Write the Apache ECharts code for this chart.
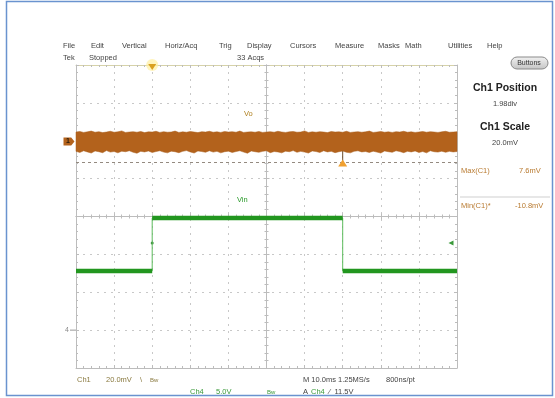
<!DOCTYPE html>
<html><head><meta charset="utf-8">
<script src="https://cdn.jsdelivr.net/npm/echarts@6/dist/echarts.min.js"></script>
<style>html,body{margin:0;padding:0;background:#fff}#c{width:555px;height:398px}</style>
</head><body><div id="c"></div>
<script>
// ---- data ----
const menuItems = ['File','Edit','Vertical','Horiz/Acq','Trig','Display','Cursors','Measure','Masks','Math','Utilities','Help'];
const menuX = [63,91,122,165,219,247,290,335,378,405,448,487];
// time axis (ms), 10 ms/div
const timeMin = 0, timeMax = 100, timeDiv = 10;
// Vo (Ch1, mV) noise envelope, sampled every 1 ms
const voT = [0,1,2,3,4,5,6,7,8,9,10,11,12,13,14,15,16,17,18,19,20,21,22,23,24,25,26,27,28,29,30,31,32,33,34,35,36,37,38,39,40,41,42,43,44,45,46,47,48,49,50,51,52,53,54,55,56,57,58,59,60,61,62,63,64,65,66,67,68,69,70,71,72,73,74,75,76,77,78,79,80,81,82,83,84,85,86,87,88,89,90,91,92,93,94,95,96,97,98,99,100];
const voHi = [5.0,5.3,4.8,5.1,5.5,4.9,5.2,4.7,5.0,5.4,
              4.9,5.1,5.6,4.8,5.0,5.2,4.9,5.3,4.7,5.1,
              5.0,5.4,4.8,5.2,4.9,5.0,5.5,4.8,5.1,4.9,
              5.3,5.0,4.7,5.2,5.0,5.4,4.9,5.1,4.8,5.3,
              5.0,5.2,4.9,5.5,4.8,5.0,5.1,4.9,5.3,4.8,
              5.0,5.2,4.9,5.4,5.0,4.8,5.1,5.3,4.9,5.0,
              5.6,4.8,5.1,4.9,5.2,5.0,4.7,5.3,5.0,5.1,
              4.9,5.4,4.8,5.0,5.2,4.9,5.1,5.5,4.8,5.0,
              5.3,4.9,5.1,4.8,5.2,5.0,5.4,4.9,5.1,4.8,
              5.0,5.3,4.9,5.2,5.0,4.8,5.1,5.4,4.9,5.0,
              5.2];
const voLo = [-5.2,-5.8,-4.9,-5.5,-6.1,-5.0,-5.4,-5.9,-4.8,-5.6,
              -5.3,-6.0,-5.1,-5.4,-4.9,-5.7,-6.2,-5.2,-5.5,-5.0,
              -5.8,-5.3,-4.9,-5.6,-6.0,-5.1,-5.4,-5.9,-5.2,-4.8,
              -5.5,-6.1,-5.0,-5.3,-5.7,-4.9,-5.6,-5.2,-6.0,-5.4,
              -5.1,-5.8,-5.3,-4.9,-5.6,-6.2,-5.0,-5.4,-5.7,-5.2,
              -4.9,-5.9,-5.3,-5.5,-6.0,-5.1,-5.4,-4.8,-5.7,-5.2,
              -5.6,-6.1,-5.0,-5.3,-5.8,-4.9,-5.5,-5.2,-5.9,-5.4,
              -5.0,-5.7,-6.0,-5.2,-4.9,-5.5,-5.3,-5.8,-5.1,-5.6,
              -6.1,-5.0,-5.4,-5.7,-4.9,-5.3,-5.9,-5.2,-5.5,-5.0,
              -5.8,-5.3,-6.0,-4.9,-5.4,-5.6,-5.1,-5.7,-5.2,-5.5,
              -5.3];
const voSpikeT = [70, 70];
const voSpikeV = [-5.0, -10.8];
const voMax = 7.6, voMin = -10.8;
// Vin (Ch4, V)
const vinT = [0, 20, 20, 70, 70, 100];
const vinV = [7.8, 7.8, 14.8, 14.8, 7.8, 7.8];
const trigLevel = 11.5, trigTime = 20;
// channel scales
const ch1ScaleMv = 20, ch1PosDiv = 1.98;
const ch4ScaleV = 5, ch4PosDiv = -3;

const ch1Min = (-4 - ch1PosDiv) * ch1ScaleMv, ch1Max = (4 - ch1PosDiv) * ch1ScaleMv;
const ch4Min = (-4 - ch4PosDiv) * ch4ScaleV, ch4Max = (4 - ch4PosDiv) * ch4ScaleV;

const FONT = 'Liberation Sans';
const gridCol = '#c8c8c8';
const tickCol = '#bcbcbc';

function borderAxis(extra) {
  return Object.assign({
    type: 'value', axisLabel: {show: false},
    axisLine: {show: true, onZero: false, lineStyle: {color: tickCol, width: 1}},
    axisTick: {show: true, inside: true, length: 3, lineStyle: {color: tickCol}},
    minorTick: {show: true, splitNumber: 5, length: 2, lineStyle: {color: tickCol}},
    splitLine: {show: false}
  }, extra);
}

const texts = [];
function txt(x, y, s, o) {
  texts.push(Object.assign({type: 'text', x: x, y: y, silent: true,
    style: Object.assign({text: s, fill: '#555', font: '7.5px ' + FONT, textVerticalAlign: 'middle'}, (o && o.style) || {})},
    o && o.z ? {z: o.z} : {}));
}
menuItems.forEach((m, i) => txt(menuX[i], 46, m, {style: {fill: '#444'}}));
txt(63, 58, 'Tek', {style: {fill: '#444'}});
txt(89, 58, 'Stopped', {style: {fill: '#444'}});
txt(237, 58, '33 Acqs', {style: {fill: '#444'}});
txt(505, 88, 'Ch1 Position', {style: {fill: '#222', font: 'bold 10.5px ' + FONT, textAlign: 'center'}});
txt(505, 104, ch1PosDiv.toFixed(2) + 'div', {style: {fill: '#444', textAlign: 'center'}});
txt(505, 127, 'Ch1 Scale', {style: {fill: '#222', font: 'bold 10.5px ' + FONT, textAlign: 'center'}});
txt(505, 143, ch1ScaleMv.toFixed(1) + 'mV', {style: {fill: '#444', textAlign: 'center'}});
txt(461, 171, 'Max(C1)', {style: {fill: '#b87a30'}});
txt(519, 171, voMax.toFixed(1) + 'mV', {style: {fill: '#b87a30'}});
txt(461, 206, 'Min(C1)*', {style: {fill: '#b87a30'}});
txt(515, 206, voMin.toFixed(1) + 'mV', {style: {fill: '#b87a30'}});
txt(244, 114, 'Vo', {style: {fill: '#b08020'}});
txt(237, 200, 'Vin', {style: {fill: '#2a9a2a'}});
txt(77, 380, 'Ch1', {style: {fill: '#8a7a40'}});
txt(106, 380, ch1ScaleMv.toFixed(1) + 'mV', {style: {fill: '#8a7a40'}});
txt(140, 380, '\\', {style: {fill: '#8a7a40'}});
txt(150, 380, 'Bw', {style: {fill: '#8a7a40', font: '6px ' + FONT}});
txt(190, 392, 'Ch4', {style: {fill: '#3a9a3a'}});
txt(216, 392, ch4ScaleV.toFixed(1) + 'V', {style: {fill: '#3a9a3a'}});
txt(267, 392, 'Bw', {style: {fill: '#3a9a3a', font: '6px ' + FONT}});
txt(303, 380, 'M 10.0ms 1.25MS/s', {style: {fill: '#444'}});
txt(386, 380, '800ns/pt', {style: {fill: '#444'}});
txt(303, 392, 'A', {style: {fill: '#444'}});
txt(311, 392, 'Ch4', {style: {fill: '#3a9a3a'}});
txt(329, 392, '\u2044  ' + trigLevel.toFixed(1) + 'V', {style: {fill: '#444'}});
txt(529, 63, 'Buttons', {style: {fill: '#333', font: '7px ' + FONT, textAlign: 'center'}, z: 12});

const graphics = [
  {type: 'rect', shape: {x: 6.5, y: 1.5, width: 546, height: 394}, style: {fill: 'none', stroke: '#6a93cf', lineWidth: 1.5}, silent: true},
  {type: 'rect', shape: {x: 511, y: 57, width: 37, height: 12, r: 6}, z: 11,
   style: {fill: {type: 'linear', x: 0, y: 0, x2: 0, y2: 1, colorStops: [{offset: 0, color: '#f2f2f2'}, {offset: 1, color: '#c4c4c4'}]}, stroke: '#8a8a8a', lineWidth: 1}},
  {type: 'line', shape: {x1: 460, y1: 197, x2: 550, y2: 197}, style: {stroke: '#cfcfcf', lineWidth: 1}, silent: true}
].concat(texts);

const chart = echarts.init(document.getElementById('c'), null, {renderer: 'canvas'});
chart.setOption({
  animation: false,
  backgroundColor: '#fff',
  graphic: graphics,
  grid: {left: 76, top: 65, width: 381, height: 303, containLabel: false},
  xAxis: [
    borderAxis({min: timeMin, max: timeMax, interval: timeDiv, position: 'bottom',
      splitLine: {show: true, lineStyle: {color: gridCol, type: [2, 5], width: 1}}}),
    borderAxis({min: timeMin, max: timeMax, interval: timeDiv, position: 'top',
      axisLine: {show: true, onZero: false, lineStyle: {color: '#d6d2a8', width: 1}}}),
    borderAxis({min: -5, max: 5, interval: 1, position: 'bottom',
      axisLine: {show: true, onZero: true, onZeroAxisIndex: 0, lineStyle: {color: tickCol, width: 1}}}),
    borderAxis({min: -5, max: 5, interval: 1, position: 'top',
      axisLine: {show: true, onZero: true, onZeroAxisIndex: 0, lineStyle: {color: tickCol, width: 1}}})
  ],
  yAxis: [
    borderAxis({min: -4, max: 4, interval: 1, position: 'left',
      splitLine: {show: true, lineStyle: {color: gridCol, type: [2, 5], width: 1}}}),
    borderAxis({min: -4, max: 4, interval: 1, position: 'right'}),
    borderAxis({min: -4, max: 4, interval: 1, position: 'left',
      axisLine: {show: true, onZero: true, onZeroAxisIndex: 2, lineStyle: {color: tickCol, width: 1}}}),
    borderAxis({min: -4, max: 4, interval: 1, position: 'right',
      axisLine: {show: true, onZero: true, onZeroAxisIndex: 2, lineStyle: {color: tickCol, width: 1}}}),
    {type: 'value', min: ch1Min, max: ch1Max, show: false, splitLine: {show: false}},
    {type: 'value', min: ch4Min, max: ch4Max, show: false, splitLine: {show: false}}
  ],
  series: [
    {
      name: 'Vo', type: 'custom', xAxisIndex: 0, yAxisIndex: 4, z: 5,
      data: [[voT[0], 0]],
      renderItem: function (params, api) {
        const pts = [];
        for (let i = 0; i < voT.length; i++) pts.push(api.coord([voT[i], voHi[i]]));
        for (let i = voT.length - 1; i >= 0; i--) pts.push(api.coord([voT[i], voLo[i]]));
        return {type: 'polygon', shape: {points: pts}, style: {fill: '#b3621c', stroke: '#a85c1a', lineWidth: 0.5}};
      },
      markLine: {
        silent: true, symbol: 'none', label: {show: false},
        lineStyle: {color: '#948a80', type: [3, 3], width: 1},
        data: [{yAxis: voMin}]
      },
      markPoint: {
        silent: true,
        data: [
          {coord: [timeMin, 0], symbol: 'path://M0,0 L7,0 L10,4 L7,8 L0,8 Z', symbolSize: [11, 8], symbolOffset: [-7, 0],
           itemStyle: {color: '#b3621c'}, label: {show: true, formatter: '1', color: '#2a1a08', fontSize: 7, fontWeight: 'bold', offset: [-1, 0]}},
          {coord: [trigTime, ch1Max], symbol: 'circle', symbolSize: 12, itemStyle: {color: 'rgba(255,240,160,0.7)'}, label: {show: false}},
          {coord: [trigTime, ch1Max], symbol: 'path://M0,0 L10,0 L5,7 Z', symbolSize: [8, 6], symbolOffset: [0, 2],
           itemStyle: {color: '#d9a020'}, label: {show: false}}
        ]
      }
    },
    {
      name: 'VoSpike', type: 'line', xAxisIndex: 0, yAxisIndex: 4, z: 4,
      data: voSpikeT.map((t, i) => [t, voSpikeV[i]]),
      symbol: 'none', lineStyle: {color: '#6b4a2a', width: 1},
      markPoint: {
        silent: true,
        data: [{coord: [voSpikeT[1], voMin], symbol: 'triangle', symbolSize: [9, 7], symbolOffset: [0, 1],
                itemStyle: {color: '#f0a030'}, label: {show: false}}]
      }
    },
    {
      name: 'VinEdge', type: 'line', xAxisIndex: 0, yAxisIndex: 5, z: 6,
      data: vinT.map((t, i) => [t, vinV[i]]),
      symbol: 'none', lineStyle: {color: '#5cbc5c', width: 1},
      markPoint: {
        silent: true,
        data: [
          {coord: [timeMin, 0], symbol: 'rect', symbolSize: [6, 1], symbolOffset: [-3, 0], itemStyle: {color: '#999'},
           label: {show: true, position: 'left', formatter: '4', color: '#8a8a8a', fontSize: 7, distance: 1}},
          {coord: [trigTime, trigLevel], symbol: 'circle', symbolSize: 3, itemStyle: {color: '#3a8a3a'}, label: {show: false}},
          {coord: [timeMax, trigLevel], symbol: 'path://M0,4 L6,0 L6,8 Z', symbolSize: [5, 5], symbolOffset: [-6, 0],
           itemStyle: {color: '#3a9a3a'}, label: {show: false}}
        ]
      }
    },
    {
      name: 'Vin', type: 'line', xAxisIndex: 0, yAxisIndex: 5, z: 7,
      data: [[vinT[0], vinV[0]], [vinT[1], vinV[1]], [vinT[1], null],
             [vinT[2], vinV[2]], [vinT[3], vinV[3]], [vinT[3], null],
             [vinT[4], vinV[4]], [vinT[5], vinV[5]]],
      connectNulls: false,
      symbol: 'none', lineStyle: {color: '#22961f', width: 4.5, cap: 'butt'}
    }
  ]
});
</script></body></html>
